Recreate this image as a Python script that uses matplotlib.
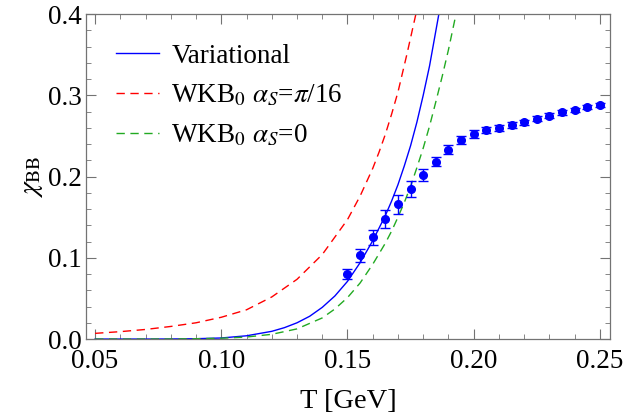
import numpy as np
import matplotlib

matplotlib.use("Agg")
import matplotlib.pyplot as plt
from matplotlib.ticker import MultipleLocator, FormatStrFormatter

plt.rcParams["font.family"] = ["Liberation Serif", "DejaVu Serif"]
plt.rcParams["mathtext.fontset"] = "stix"

# ----------------------------------------------------------------------
# data
# ----------------------------------------------------------------------
# lattice points
T_pts = [0.150, 0.155, 0.160, 0.165, 0.170, 0.175, 0.180, 0.185, 0.190,
         0.195, 0.200, 0.205, 0.210, 0.215, 0.220, 0.225, 0.230, 0.235,
         0.240, 0.245, 0.250]
chi_pts = [0.080, 0.103, 0.125, 0.148, 0.166, 0.185, 0.202, 0.218, 0.233,
           0.245, 0.252, 0.257, 0.260, 0.263, 0.267, 0.271, 0.275, 0.279,
           0.282, 0.285, 0.288]
chi_err = [0.0057, 0.0080, 0.0096, 0.0110, 0.0115, 0.0100, 0.0076, 0.0055,
           0.0055, 0.0053, 0.0050, 0.0037, 0.0035, 0.0035, 0.0030, 0.0030,
           0.0030, 0.0028, 0.0025, 0.0025, 0.0025]

# Variational (blue solid)
T_var = [0.05, 0.06, 0.07, 0.08, 0.09, 0.10, 0.11, 0.12, 0.125, 0.13, 0.135,
         0.14, 0.145, 0.15, 0.155, 0.16, 0.165, 0.1675, 0.17, 0.1725, 0.175,
         0.1775, 0.18, 0.1825, 0.1862]
chi_var = [0.0, 0.0, 0.0, 0.0001, 0.0004, 0.0013, 0.0040, 0.0095, 0.014,
           0.020, 0.028, 0.039, 0.053, 0.071, 0.094, 0.121, 0.152, 0.170,
           0.190, 0.213, 0.238, 0.267, 0.300, 0.336, 0.400]

# WKB0 alpha_s = pi/16 (red dashed)
T_wkb1 = [0.05, 0.06, 0.07, 0.08, 0.09, 0.10, 0.11, 0.12, 0.13, 0.14, 0.15,
          0.155, 0.16, 0.1625, 0.165, 0.1675, 0.17, 0.1735, 0.1771]
chi_wkb1 = [0.0070, 0.0091, 0.0118, 0.0155, 0.0200, 0.0268, 0.0360, 0.0518,
            0.0735, 0.104, 0.147, 0.176, 0.210, 0.230, 0.252, 0.277, 0.304,
            0.350, 0.400]

# WKB0 alpha_s = 0 (green dashed)
T_wkb0 = [0.05, 0.06, 0.07, 0.08, 0.09, 0.10, 0.11, 0.12, 0.13, 0.14, 0.145,
          0.15, 0.155, 0.16, 0.165, 0.1675, 0.17, 0.1725, 0.175, 0.1775, 0.18,
          0.1825, 0.185, 0.1875, 0.19, 0.193]
chi_wkb0 = [0.0, 0.0, 0.0, 0.0001, 0.0004, 0.0010, 0.0025, 0.0058, 0.0125,
            0.026, 0.037, 0.051, 0.069, 0.092, 0.118, 0.133, 0.150, 0.168,
            0.188, 0.211, 0.235, 0.262, 0.292, 0.323, 0.356, 0.400]

# ----------------------------------------------------------------------
# plot
# ----------------------------------------------------------------------
fig = plt.figure(figsize=(6.25, 4.16), dpi=100)
ax = fig.add_axes([0.1376, 0.185, 0.8384, 0.7813])

ax.plot(T_var, chi_var, color="#0000ff", lw=1.0, label="Variational")
ax.plot(T_wkb1, chi_wkb1, color="#ff0000", lw=1.0, dashes=(6, 4),
        label=r"WKB$_0$ $\alpha_S$=$\pi$/16")
ax.plot(T_wkb0, chi_wkb0, color="#22aa22", lw=1.0, dashes=(6, 4),
        label=r"WKB$_0$ $\alpha_S$=0")
ax.errorbar(T_pts, chi_pts, yerr=chi_err, fmt="o", color="#0000ff",
            ms=5.5, elinewidth=1.0, capsize=3.5, capthick=1.0, zorder=5)

ax.set_xlim(0.0464, 0.254)
ax.set_ylim(0.0, 0.4)
ax.xaxis.set_major_locator(MultipleLocator(0.05))
ax.xaxis.set_minor_locator(MultipleLocator(0.01))
ax.yaxis.set_major_locator(MultipleLocator(0.1))
ax.yaxis.set_minor_locator(MultipleLocator(0.02))
ax.xaxis.set_major_formatter(FormatStrFormatter("%.2f"))
ax.yaxis.set_major_formatter(FormatStrFormatter("%.1f"))
ax.tick_params(which="both", direction="in", top=True, right=True,
               color="0.45", labelsize=19.5)
ax.tick_params(axis="x", which="both", pad=7)
ax.tick_params(axis="y", which="both", pad=3)
ax.tick_params(which="major", length=7, width=0.8)
ax.tick_params(which="minor", length=3.5, width=0.6)
for s in ax.spines.values():
    s.set_color("0.45")
    s.set_linewidth(0.9)

ax.set_xlabel("T [GeV]", fontsize=20.5, labelpad=11)
ax.set_ylabel(r"$\chi_{\rm BB}$", fontsize=20, labelpad=2)

ax.legend(loc="upper left", frameon=False, fontsize=19.5, handlelength=1.6,
          handletextpad=0.45, labelspacing=0.52, borderaxespad=0.7,
          borderpad=0.4)

fig.savefig("out.png", dpi=100)
